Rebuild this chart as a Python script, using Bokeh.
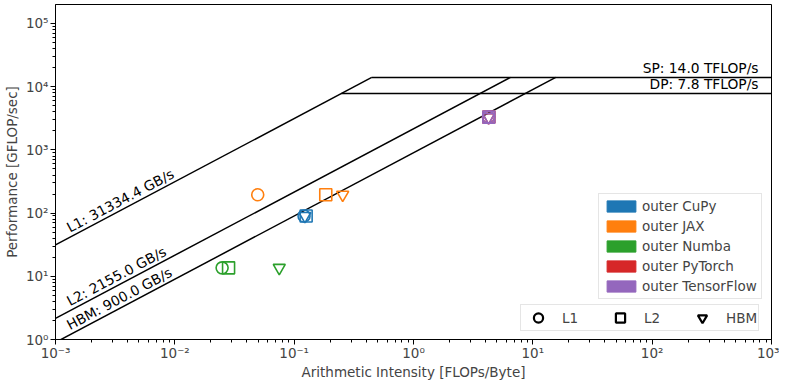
import math
from bokeh.plotting import figure
from bokeh.models import Legend, LegendItem, FixedTicker, Range1d
from bokeh.core.properties import value
from bokeh.embed import file_html
from bokeh.resources import INLINE

# ---- data ----
impls = ["outer CuPy", "outer JAX", "outer Numba", "outer PyTorch", "outer TensorFlow"]
colors = ["#1f77b4", "#ff7f0e", "#2ca02c", "#d62728", "#9467bd"]
ai_l1 = [0.121, 0.0495, 0.0249, 4.25, 4.25]
ai_l2 = [0.126, 0.184, 0.0282, 4.28, 4.28]
ai_hbm = [0.123, 0.255, 0.075, 4.26, 4.26]
perf = [90, 195, 13.6, 3300, 3300]

mem_names = ["L1", "L2", "HBM"]
mem_bw = [31334.4, 2155.0, 900.0]          # GB/s
peak_names = ["SP", "DP"]
peak_tflops = [14.0, 7.8]                   # TFLOP/s

x_ticks = [1e-3, 1e-2, 1e-1, 1e0, 1e1, 1e2, 1e3]
x_tick_labels = ["10⁻³", "10⁻²", "10⁻¹", "10⁰", "10¹", "10²", "10³"]
y_ticks = [1e0, 1e1, 1e2, 1e3, 1e4, 1e5]
y_tick_labels = ["10⁰", "10¹", "10²", "10³", "10⁴", "10⁵"]

XMIN, XMAX = 1e-3, 1e3
YMIN, YMAX = 1.0, 10 ** 5.3
FONT = "DejaVu Sans"
FS = "13.5px"
FS_IN = "13.8px"
NAN = float("nan")

FW, FH = 716, 335
p = figure(frame_width=FW, frame_height=FH, x_axis_type="log", y_axis_type="log",
           x_range=Range1d(XMIN, XMAX), y_range=Range1d(YMIN, YMAX),
           output_backend="svg", toolbar_location=None,
           min_border_top=4, min_border_right=8, min_border_left=10, min_border_bottom=5)
p.xgrid.visible = False
p.ygrid.visible = False
p.outline_line_color = "black"
p.outline_line_alpha = 1
p.background_fill_color = "white"

def minor(ticks):
    out = []
    for t in ticks[:-1]:
        out += [t * k for k in range(2, 10)]
    return out

p.xaxis.ticker = FixedTicker(ticks=x_ticks, minor_ticks=minor(x_ticks))
p.yaxis.ticker = FixedTicker(ticks=y_ticks, minor_ticks=minor(y_ticks + [1e6]))
p.xaxis.major_label_overrides = {t: l for t, l in zip(x_ticks, x_tick_labels)}
p.yaxis.major_label_overrides = {t: l for t, l in zip(y_ticks, y_tick_labels)}
p.xaxis.axis_label = "Arithmetic Intensity [FLOPs/Byte]"
p.yaxis.axis_label = "Performance [GFLOP/sec]"
for ax in (p.xaxis, p.yaxis):
    ax.axis_label_text_font = FONT
    ax.axis_label_text_font_style = "normal"
    ax.axis_label_text_font_size = FS
    ax.major_label_text_font = FONT
    ax.major_label_text_font_size = FS
    ax.major_tick_out = 5
    ax.major_tick_in = 0
    ax.minor_tick_out = 3
    ax.minor_tick_in = 0
    ax.axis_line_color = "black"
    ax.major_tick_line_color = "black"
    ax.minor_tick_line_color = "black"
p.xaxis.axis_label_standoff = 0
p.xaxis.major_label_standoff = 0
p.yaxis.axis_label_standoff = 3
p.yaxis.major_label_standoff = 2

# ---- roofline ----
peaks_g = [t * 1000 for t in peak_tflops]
top = max(peaks_g)
ridges = [top / b for b in mem_bw]
for b, r in zip(mem_bw, ridges):
    p.line([XMIN, r], [b * XMIN, top], line_color="black", line_width=1.5)
for pk in peaks_g:
    start = pk / max(mem_bw)
    p.line([start, XMAX], [pk, pk], line_color="black", line_width=1.5)

# label angle from pixel slope
ang = math.atan((FH / math.log10(YMAX / YMIN)) / (FW / math.log10(XMAX / XMIN)))
x0 = 1.36e-3
p.text(x=[x0] * 3, y=[b * x0 for b in mem_bw],
       text=[f"{n}: {b:.1f} GB/s" for n, b in zip(mem_names, mem_bw)],
       angle=ang, text_baseline="bottom", text_align="left", y_offset=-1,
       text_font=value(FONT), text_font_size=FS_IN, text_color="black")
p.text(x=[XMAX] * 2, y=peaks_g,
       text=[f"{n}: {t:.1f} TFLOP/s" for n, t in zip(peak_names, peak_tflops)],
       text_baseline="bottom", text_align="right", x_offset=-13, y_offset=-1,
       text_font=value(FONT), text_font_size=FS_IN, text_color="black")

# ---- points ----
for i, c in enumerate(colors):
    p.scatter([ai_l1[i]], [perf[i]], marker="circle", size=12, fill_color=None,
              line_color=c, line_width=1.6)
    p.scatter([ai_l2[i]], [perf[i]], marker="square", size=12, fill_color=None,
              line_color=c, line_width=1.6)
    p.scatter([ai_hbm[i]], [perf[i]], marker="inverted_triangle", size=12, fill_color=None,
              line_color=c, line_width=1.6)

# ---- legends ----
color_items = []
for name, c in zip(impls, colors):
    r = p.quad(left=[NAN], right=[NAN], top=[NAN], bottom=[NAN], fill_color=c, line_color=c)
    color_items.append(LegendItem(label=name, renderers=[r]))
leg1 = Legend(items=color_items, location=(543, 40), glyph_width=36, glyph_height=14,
              spacing=4, padding=4, label_standoff=3, label_text_font=FONT,
              label_text_font_size=FS, border_line_color="#cccccc",
              background_fill_alpha=0.8)
p.add_layout(leg1, "center")

mk_items = []
for name, mk in zip(mem_names, ["circle", "square", "inverted_triangle"]):
    r = p.scatter(x=[NAN], y=[NAN], marker=mk, size=11, fill_color=None, line_color="black",
                  line_width=2.2)
    mk_items.append(LegendItem(label=name, renderers=[r]))
leg2 = Legend(items=mk_items, location=(465, 8), orientation="horizontal",
              glyph_width=32, glyph_height=23, spacing=18, padding=1, label_standoff=8,
              label_width=24,
              label_text_font=FONT, label_text_font_size=FS, border_line_color="#cccccc",
              background_fill_alpha=0.8)
p.add_layout(leg2, "center")

open("out.html", "w").write(file_html(p, INLINE))
